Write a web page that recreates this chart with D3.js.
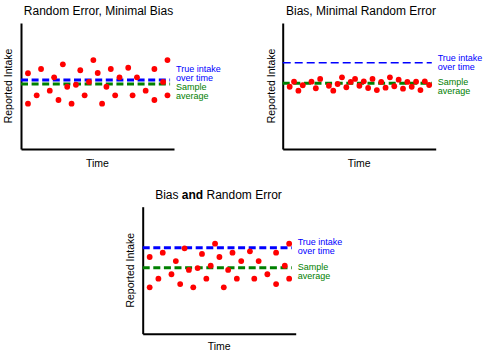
<!DOCTYPE html>
<html>
<head>
<meta charset="utf-8">
<script src="https://cdn.jsdelivr.net/npm/d3@7/dist/d3.min.js"></script>
<style>
  html, body { margin: 0; padding: 0; background: #fff; }
  svg { display: block; font-family: "Liberation Sans", Arial, sans-serif; }
</style>
</head>
<body>
<svg id="chart" width="500" height="356"></svg>
<script>
// ---------------- DATA ----------------
const panelTitles = ["Random Error, Minimal Bias", "Bias, Minimal Random Error", "Bias and Random Error"];
const axisLabelY = "Reported Intake";
const axisLabelX = "Time";
const trueLabel = ["True intake", "over time"];
const avgLabel = ["Sample", "average"];

// Panel 1: random error, minimal bias
const p1Time   = [0, 0, 2, 3, 5, 6, 7, 8, 9, 10, 11, 12, 13, 14, 15, 16, 17, 18, 19, 20, 21, 23, 24, 25, 27, 29, 29, 31, 32, 32];
const p1Intake = [60.1, 36.0, 42.6, 63.5, 46.3, 56.9, 38.9, 67.2, 49.4, 36.0, 51.0, 62.5, 42.6, 53.2, 70.6, 60.3, 36.0, 49.4, 63.5, 42.6, 56.9, 64.5, 42.6, 56.9, 46.3, 63.5, 38.9, 53.2, 70.6, 42.6];

// Panel 2: bias, minimal random error
const p2Time   = [0, 1, 2, 3, 5, 6, 7, 9, 10, 11, 12, 13, 14, 15, 16, 17, 18, 19, 20, 21, 22, 23, 24, 25, 26, 27, 28, 29, 30, 31, 32];
const p2Intake = [49.4, 53.4, 46.3, 50.6, 53.4, 48.2, 55.6, 50.2, 46.3, 51.6, 56.9, 49.0, 53.2, 55.6, 50.2, 53.7, 48.4, 55.6, 46.8, 53.2, 48.7, 56.9, 49.8, 55.0, 47.9, 53.2, 49.4, 53.4, 46.8, 53.7, 50.8];

// Panel 3: bias and random error
const p3Time   = [0, 0, 2, 3, 5, 6, 7, 8, 9, 10, 11, 12, 13, 14, 15, 16, 17, 18, 19, 20, 21, 23, 24, 25, 27, 29, 29, 31, 32, 32];
const p3Intake = [60.4, 36.5, 43.3, 63.8, 46.8, 57.2, 39.1, 67.2, 50.2, 36.5, 51.7, 62.8, 43.3, 53.5, 70.9, 60.4, 36.5, 50.2, 63.8, 43.3, 57.2, 64.9, 43.3, 57.2, 46.8, 63.8, 39.1, 53.5, 70.9, 43.3];

const trueIntake = [54.8, 68.5, 67.7];   // true intake over time per panel
const sampleAvg  = [51.6, 52.1, 52.0];   // sample average per panel

const timeDomain = [-1.6, 33.5];
const intakeDomain = [0, 100];
const lineEndTime = 32.6;

// ---------------- LAYOUT ----------------
const layout = [
  { left: 21,    top: 23,    bottom: 149,   width: 153, titleX: 98.5, titleY: 15,  ylabX: 11.5, timeY: 167,
    trueW: 3, trueY: [71.5, 80.5], avgY: [90, 99] },
  { left: 282.7, top: 23,    bottom: 149,   width: 153, titleX: 361,  titleY: 15,  ylabX: 274.5, timeY: 167,
    trueW: 1.6, trueY: [60.8, 69.8], avgY: [84.8, 93.8] },
  { left: 142.7, top: 206.7, bottom: 333.7, width: 153, titleX: 218.5, titleY: 199, ylabX: 133.5, timeY: 349.5,
    trueW: 3, trueY: [244.8, 253.8], avgY: [270, 279] }
];

const series = [
  { time: p1Time, intake: p1Intake },
  { time: p2Time, intake: p2Intake },
  { time: p3Time, intake: p3Intake }
];

const svg = d3.select("#chart");

layout.forEach((L, i) => {
  const x = d3.scaleLinear().domain(timeDomain).range([L.left, L.left + L.width]);
  const y = d3.scaleLinear().domain(intakeDomain).range([L.bottom, L.top]);
  const g = svg.append("g");

  // axes
  g.append("g")
    .attr("transform", `translate(${L.left},0)`)
    .call(d3.axisLeft(y).ticks(0).tickSizeOuter(0))
    .call(s => s.select(".domain").attr("stroke", "#000").attr("stroke-width", 2));
  g.append("g")
    .attr("transform", `translate(0,${L.bottom})`)
    .call(d3.axisBottom(x).ticks(0).tickSizeOuter(0))
    .call(s => s.select(".domain").attr("stroke", "#000").attr("stroke-width", 2));

  // title
  const title = g.append("text")
    .attr("x", L.titleX).attr("y", L.titleY)
    .attr("text-anchor", "middle")
    .attr("font-size", 12)
    .attr("fill", "#000");
  if (i === 2) {
    const parts = panelTitles[2].split(" and ");
    title.append("tspan").text(parts[0] + " ");
    title.append("tspan").attr("font-weight", "bold").text("and");
    title.append("tspan").text(" " + parts[1]);
  } else {
    title.text(panelTitles[i]);
  }

  // axis labels
  g.append("text")
    .attr("transform", `translate(${L.ylabX},${(L.top + L.bottom) / 2}) rotate(-90)`)
    .attr("text-anchor", "middle")
    .attr("font-size", 10.5)
    .text(axisLabelY);
  g.append("text")
    .attr("x", L.left + L.width / 2).attr("y", L.timeY)
    .attr("text-anchor", "middle")
    .attr("font-size", 10.5)
    .text(axisLabelX);

  // reference lines
  g.append("line")
    .attr("x1", x(timeDomain[0])).attr("x2", x(lineEndTime))
    .attr("y1", y(sampleAvg[i])).attr("y2", y(sampleAvg[i]))
    .attr("stroke", "#008000").attr("stroke-width", 3)
    .attr("stroke-dasharray", "7,3.6");
  g.append("line")
    .attr("x1", x(timeDomain[0])).attr("x2", x(lineEndTime))
    .attr("y1", y(trueIntake[i])).attr("y2", y(trueIntake[i]))
    .attr("stroke", "#0000ff").attr("stroke-width", L.trueW)
    .attr("stroke-dasharray", i === 1 ? "8,4" : "7,3.6");

  // dots
  const s = series[i];
  g.selectAll("circle")
    .data(s.time.map((t, k) => ({ t, v: s.intake[k] })))
    .join("circle")
    .attr("cx", d => x(d.t))
    .attr("cy", d => y(d.v))
    .attr("r", 2.9)
    .attr("fill", "#ff0000");

  // line labels
  const lx = L.left + L.width + 2;
  trueLabel.forEach((t, k) => {
    g.append("text").attr("x", lx).attr("y", L.trueY[k])
      .attr("font-size", 9)
      .attr("fill", "#0000ff").text(t);
  });
  avgLabel.forEach((t, k) => {
    g.append("text").attr("x", lx).attr("y", L.avgY[k])
      .attr("font-size", 9)
      .attr("fill", "#008000").text(t);
  });
});
</script>
</body>
</html>
